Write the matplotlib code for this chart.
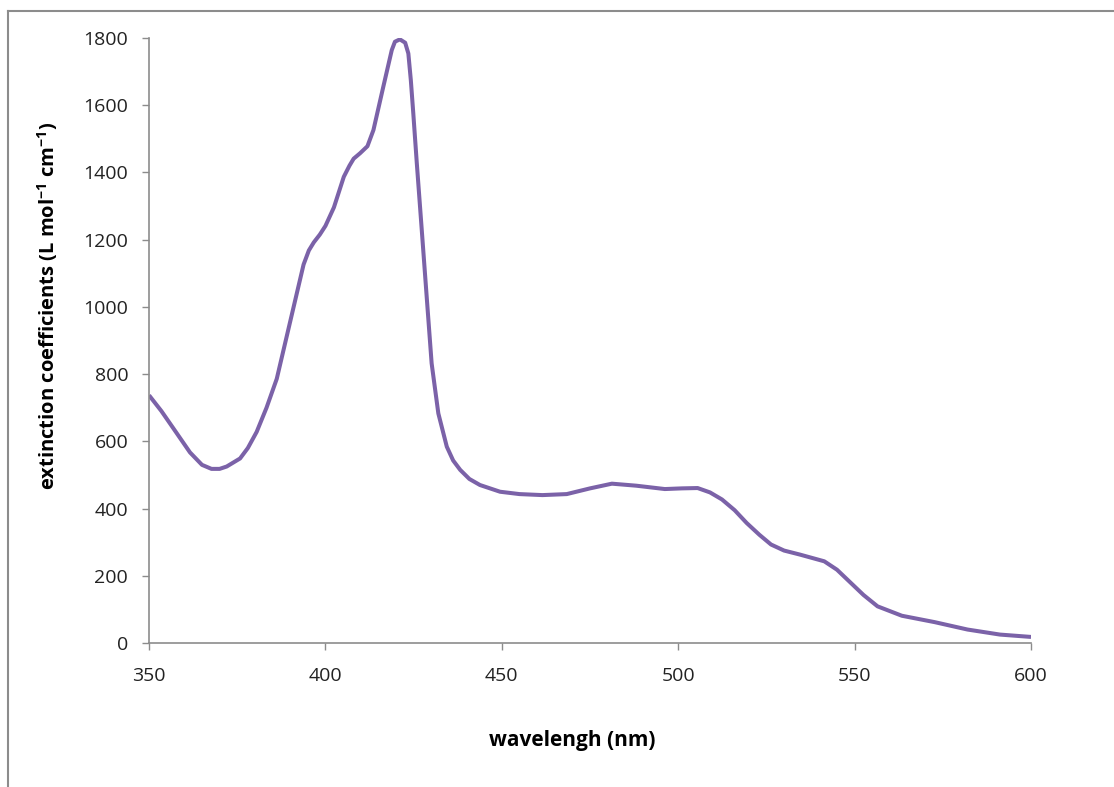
import matplotlib
matplotlib.use("Agg")
import matplotlib.pyplot as plt
from matplotlib.lines import Line2D

# absorption spectrum
wavelength = [350, 353.5, 356.8, 361.6, 365, 367.7, 370, 372, 375.8, 378, 380.5,
              383.3, 386.2, 388.1, 390, 391.9, 393.8, 395.3, 396.7, 398.4, 400,
              402.4, 405.2, 406.8, 408, 409.8, 411.9, 413.6, 416.4, 418.8, 419.7,
              421.1, 422.6, 423.5, 424.2, 424.9, 425.9, 427.3, 428.7, 430.1, 432.0,
              434.4, 436.2, 438.2, 440.8, 443.8, 449.5, 455, 461.5, 468.4, 475,
              481.2, 488.1, 496.2, 501, 505.5, 509, 512.4, 516, 519.4, 523,
              526.3, 530, 534.5, 541.4, 545, 548.4, 552.5, 556.5, 563.4, 572.7,
              582, 591.2, 600]
extinction = [737, 690, 640, 567, 530, 518, 518, 525, 549, 580, 628,
              700, 786, 871, 956, 1041, 1126, 1168, 1192, 1215, 1241,
              1296, 1387, 1420, 1441, 1457, 1478, 1526, 1655, 1764, 1789,
              1796, 1786, 1754, 1675, 1576, 1427, 1229, 1030, 832, 683,
              584, 543, 515, 488, 470, 450, 443, 440, 443, 460,
              474, 468, 458, 460, 461, 448, 427, 395, 357, 322,
              293, 275, 263, 243, 218, 184, 143, 109, 81, 62,
              40, 25, 18]

x_ticks = [350, 400, 450, 500, 550, 600]
y_ticks = [0, 200, 400, 600, 800, 1000, 1200, 1400, 1600, 1800]

plt.rcParams['font.family'] = ['Open Sans', 'DejaVu Sans']
plt.rcParams['mathtext.default'] = 'regular'

fig = plt.figure(figsize=(11.14, 7.87), dpi=100)
ax = fig.add_axes([0.1338, 0.1830, 0.7917, 0.7687])

ax.plot(wavelength, extinction, color='#7B62A8', lw=2.9,
        solid_joinstyle='round', solid_capstyle='butt')

ax.set_xlim(350, 600)
ax.set_ylim(0, 1800)
ax.set_xticks(x_ticks)
ax.set_yticks(y_ticks)

for side in ['top', 'right']:
    ax.spines[side].set_visible(False)
for side in ['left', 'bottom']:
    ax.spines[side].set_color('#8c8c8c')
    ax.spines[side].set_linewidth(1.2)

ax.tick_params(axis='both', colors='#8c8c8c', length=5, width=1.0,
               labelcolor='#222222', labelsize=14)
ax.tick_params(axis='x', pad=12)
ax.tick_params(axis='y', pad=10)

fig.text(0.514, 0.059, 'wavelengh (nm)', ha='center', va='center',
         fontsize=15, fontweight='bold')
fig.text(0.043, 0.612, r'extinction coefficients (L mol$^{-1}$ cm$^{-1}$)',
         ha='center', va='center', rotation=90, fontsize=14.5,
         fontweight='bold')

# chart frame lines (top and left only visible in the original)
fig.add_artist(Line2D([0.0072, 1.0], [0.986, 0.986], transform=fig.transFigure,
                      color='#8c8c8c', lw=1.5))
fig.add_artist(Line2D([0.0072, 0.0072], [0.0, 0.986], transform=fig.transFigure,
                      color='#8c8c8c', lw=1.5))

fig.savefig('out.png', dpi=100, facecolor='white')
